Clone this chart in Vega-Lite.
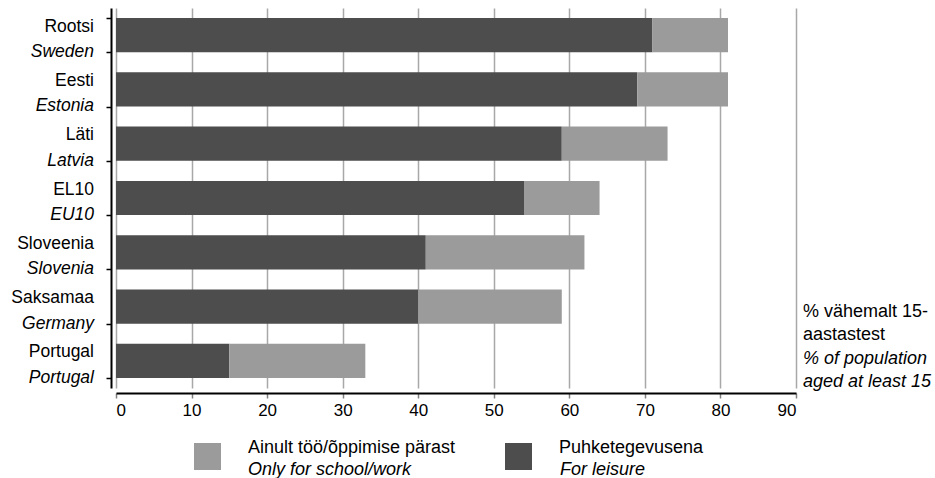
{
  "$schema": "https://vega.github.io/schema/vega-lite/v6.json",
  "width": 680,
  "height": 380,
  "autosize": {"type": "none"},
  "padding": {"left": 116, "top": 8, "right": 139, "bottom": 90},
  "config": {
    "view": {"stroke": null},
    "font": "Liberation Sans",
    "text": {"font": "Liberation Sans", "color": "#000000"}
  },
  "data": {
    "values": [
      {"et": "Rootsi", "en": "Sweden", "cat_et": "Puhketegevusena", "cat_en": "For leisure", "value": 71},
      {"et": "Rootsi", "en": "Sweden", "cat_et": "Ainult töö/õppimise pärast", "cat_en": "Only for school/work", "value": 10},
      {"et": "Eesti", "en": "Estonia", "cat_et": "Puhketegevusena", "cat_en": "For leisure", "value": 69},
      {"et": "Eesti", "en": "Estonia", "cat_et": "Ainult töö/õppimise pärast", "cat_en": "Only for school/work", "value": 12},
      {"et": "Läti", "en": "Latvia", "cat_et": "Puhketegevusena", "cat_en": "For leisure", "value": 59},
      {"et": "Läti", "en": "Latvia", "cat_et": "Ainult töö/õppimise pärast", "cat_en": "Only for school/work", "value": 14},
      {"et": "EL10", "en": "EU10", "cat_et": "Puhketegevusena", "cat_en": "For leisure", "value": 54},
      {"et": "EL10", "en": "EU10", "cat_et": "Ainult töö/õppimise pärast", "cat_en": "Only for school/work", "value": 10},
      {"et": "Sloveenia", "en": "Slovenia", "cat_et": "Puhketegevusena", "cat_en": "For leisure", "value": 41},
      {"et": "Sloveenia", "en": "Slovenia", "cat_et": "Ainult töö/õppimise pärast", "cat_en": "Only for school/work", "value": 21},
      {"et": "Saksamaa", "en": "Germany", "cat_et": "Puhketegevusena", "cat_en": "For leisure", "value": 40},
      {"et": "Saksamaa", "en": "Germany", "cat_et": "Ainult töö/õppimise pärast", "cat_en": "Only for school/work", "value": 19},
      {"et": "Portugal", "en": "Portugal", "cat_et": "Puhketegevusena", "cat_en": "For leisure", "value": 15},
      {"et": "Portugal", "en": "Portugal", "cat_et": "Ainult töö/õppimise pärast", "cat_en": "Only for school/work", "value": 18}
    ]
  },
  "layer": [
    {
      "mark": {"type": "bar"},
      "encoding": {
        "x": {
          "field": "value",
          "type": "quantitative",
          "stack": "zero",
          "scale": {"domain": [0, 90], "nice": false},
          "axis": {
            "title": null,
            "values": [0, 10, 20, 30, 40, 50, 60, 70, 80, 90],
            "offset": 5,
            "domainColor": "#000000",
            "domainWidth": 2,
            "tickColor": "#808080",
            "tickWidth": 1.5,
            "tickSize": 5,
            "labelFontSize": 17,
            "labelColor": "#000000",
            "labelPadding": 4,
            "labelFont": "Liberation Sans",
            "grid": true,
            "gridColor": "#a8a8a8",
            "gridWidth": 1.5
          }
        },
        "y": {
          "field": "et",
          "type": "nominal",
          "scale": {
            "domain": ["Rootsi", "Eesti", "Läti", "EL10", "Sloveenia", "Saksamaa", "Portugal"],
            "paddingInner": 0.37,
            "paddingOuter": 0.185
          },
          "axis": {
            "title": null,
            "labels": false,
            "offset": 5,
            "tickBand": "extent",
            "domainColor": "#000000",
            "domainWidth": 2,
            "tickColor": "#000000",
            "tickWidth": 1.5,
            "tickSize": 5,
            "grid": false
          }
        },
        "color": {
          "field": "cat_et",
          "type": "nominal",
          "scale": {
            "domain": ["Ainult töö/õppimise pärast", "Puhketegevusena"],
            "range": ["#9b9b9b", "#4d4d4d"]
          },
          "legend": {
            "orient": "none",
            "legendX": 78,
            "legendY": 435,
            "direction": "horizontal",
            "title": null,
            "symbolType": "square",
            "symbolSize": 729,
            "symbolStrokeWidth": 0,
            "symbolOpacity": 1,
            "labelFont": "Liberation Sans",
            "labelFontSize": 18,
            "labelColor": "#000000",
            "labelOffset": 27,
            "labelBaseline": "bottom",
            "labelLimit": 400,
            "columnPadding": 49,
            "padding": 0
          }
        },
        "opacity": {
          "field": "cat_en",
          "type": "nominal",
          "scale": {
            "domain": ["Only for school/work", "For leisure"],
            "range": [1, 1]
          },
          "legend": {
            "orient": "none",
            "legendX": 78,
            "legendY": 453,
            "direction": "horizontal",
            "title": null,
            "symbolType": "circle",
            "symbolSize": 729,
            "symbolStrokeWidth": 0,
            "symbolOpacity": 0,
            "symbolFillColor": "transparent",
            "symbolStrokeColor": "transparent",
            "labelFont": "Liberation Sans",
            "labelFontSize": 18,
            "labelFontStyle": "italic",
            "labelColor": "#000000",
            "labelOffset": 27,
            "labelBaseline": "alphabetic",
            "labelLimit": 400,
            "columnPadding": 94,
            "padding": 0
          }
        },
        "order": {"field": "cat_et", "sort": "descending"}
      }
    },
    {
      "transform": [{"filter": "datum.cat_en === 'For leisure'"}],
      "mark": {"type": "text", "align": "right", "baseline": "alphabetic", "dx": -22, "dy": -3.5, "fontSize": 17.5, "font": "Liberation Sans", "color": "#000000"},
      "encoding": {
        "x": {"datum": 0, "type": "quantitative"},
        "y": {"field": "et", "type": "nominal"},
        "text": {"field": "et"}
      }
    },
    {
      "transform": [{"filter": "datum.cat_en === 'For leisure'"}],
      "mark": {"type": "text", "align": "right", "baseline": "alphabetic", "dx": -22, "dy": 22, "fontSize": 17.5, "fontStyle": "italic", "font": "Liberation Sans", "color": "#000000"},
      "encoding": {
        "x": {"datum": 0, "type": "quantitative"},
        "y": {"field": "et", "type": "nominal"},
        "text": {"field": "en"}
      }
    },
    {
      "data": {"values": [{"lines": "et"}]},
      "mark": {"type": "text", "align": "left", "baseline": "alphabetic", "dx": 7, "dy": -44, "fontSize": 18, "lineHeight": 23.5, "font": "Liberation Sans", "color": "#000000"},
      "encoding": {
        "x": {"datum": 90, "type": "quantitative"},
        "y": {"datum": "Portugal", "type": "nominal"},
        "text": {"value": ["% vähemalt 15-", "aastastest"]}
      }
    },
    {
      "data": {"values": [{"lines": "en"}]},
      "mark": {"type": "text", "align": "left", "baseline": "alphabetic", "dx": 7, "dy": 3, "fontSize": 18, "lineHeight": 23.5, "fontStyle": "italic", "font": "Liberation Sans", "color": "#000000"},
      "encoding": {
        "x": {"datum": 90, "type": "quantitative"},
        "y": {"datum": "Portugal", "type": "nominal"},
        "text": {"value": ["% of population", "aged at least 15"]}
      }
    }
  ]
}
